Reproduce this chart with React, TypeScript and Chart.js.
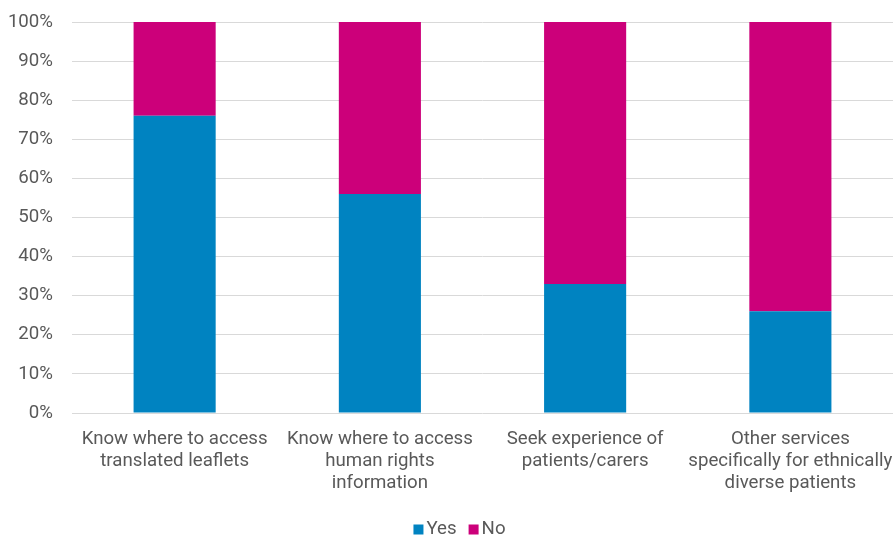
import React, { useEffect, useRef } from "react";
import { Chart, registerables } from "chart.js";

Chart.register(...registerables);

const categories: string[][] = [
  ["Know where to access", "translated leaflets"],
  ["Know where to access", "human rights", "information"],
  ["Seek experience of", "patients/carers"],
  ["Other services", "specifically for ethnically", "diverse patients"],
];
const yesValues = [76, 56, 33, 26];
const noValues = [24, 44, 67, 74];
const yTicks = [0, 10, 20, 30, 40, 50, 60, 70, 80, 90, 100];

const FONT = "Roboto";
const TEXT_COLOR = "#595959";

// Compact legend (tight box/text spacing like the original)
const compactLegend = {
  id: "compactLegend",
  afterDraw(chart: any) {
    const ctx = chart.ctx;
    const items = chart.data.datasets.map((d: any) => ({ text: d.label, color: d.backgroundColor }));
    const box = 10;
    const gap = 3;
    const itemGap = 12;
    ctx.save();
    ctx.font = `18.67px ${FONT}`;
    const widths = items.map((it: any) => box + gap + ctx.measureText(it.text).width);
    const total = widths.reduce((a: number, b: number) => a + b, 0) + itemGap * (items.length - 1);
    let x = (chart.width + 26) / 2 - total / 2;
    const cy = chart.height - 6;
    ctx.textBaseline = "middle";
    ctx.textAlign = "left";
    items.forEach((it: any, i: number) => {
      ctx.fillStyle = it.color;
      ctx.fillRect(x, cy - box / 2 + 0.5, box, box);
      ctx.fillStyle = TEXT_COLOR;
      ctx.fillText(it.text, x + box + gap, cy);
      x += widths[i] + itemGap;
    });
    ctx.restore();
  },
};

export default function App() {
  const ref = useRef<HTMLCanvasElement | null>(null);
  useEffect(() => {
    if (!ref.current) return;
    const chart = new Chart(ref.current, {
      type: "bar",
      data: {
        labels: categories,
        datasets: [
          { label: "Yes", data: yesValues, backgroundColor: "#0083C1", borderWidth: 0 },
          { label: "No", data: noValues, backgroundColor: "#CC007A", borderWidth: 0 },
        ],
      },
      options: {
        animation: false,
        responsive: false,
        maintainAspectRatio: false,
        layout: { padding: { top: 22, right: 0, left: 9, bottom: 0 } },
        datasets: { bar: { barPercentage: 0.4, categoryPercentage: 1 } },
        scales: {
          x: {
            stacked: true,
            grid: { display: false },
            border: { display: false },
            afterFit: (scale: any) => {
              scale.height = 122;
              scale.paddingLeft = 0;
              scale.paddingRight = 0;
            },
            ticks: {
              color: TEXT_COLOR,
              font: { family: FONT, size: 18.67, lineHeight: 1.18 },
              maxRotation: 0,
              autoSkip: false,
              padding: 7,
            },
          },
          y: {
            stacked: true,
            min: 0,
            max: 100,
            afterBuildTicks: (axis: any) => {
              axis.ticks = yTicks.map((v) => ({ value: v }));
            },
            afterFit: (scale: any) => {
              scale.width = 63;
              scale.paddingTop = 0;
              scale.paddingBottom = 0;
            },
            grid: { color: "#d9d9d9", lineWidth: 1, drawTicks: false },
            border: { display: false },
            ticks: {
              color: TEXT_COLOR,
              font: { family: FONT, size: 18.67 },
              padding: 19,
              callback: (v: any) => v + "%",
            },
          },
        },
        plugins: {
          legend: { display: false },
          tooltip: { enabled: false },
        },
      },
      plugins: [compactLegend],
    });
    return () => chart.destroy();
  }, []);
  return (
    <div style={{ position: "absolute", left: 0, top: 0, width: 893, height: 535 }}>
      <canvas ref={ref} width={893} height={535} style={{ width: 893, height: 535 }} />
    </div>
  );
}
